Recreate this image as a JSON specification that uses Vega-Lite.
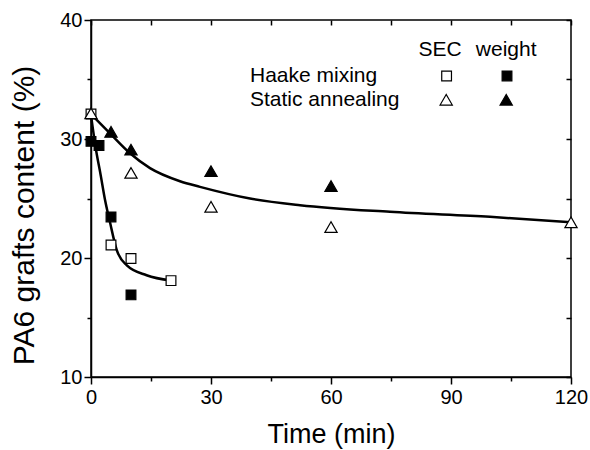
{
  "$schema": "https://vega.github.io/schema/vega-lite/v6.json",
  "autosize": "none",
  "width": 480,
  "height": 357,
  "padding": {"left": 91, "top": 20, "right": 19, "bottom": 73},
  "background": "white",
  "config": {
    "view": {"stroke": "black", "strokeWidth": 1.5},
    "font": "Liberation Sans",
    "axis": {
      "domainColor": "black", "domainWidth": 1.5, "tickColor": "black", "tickWidth": 1.5,
      "labelColor": "black", "titleColor": "black", "labelFont": "Liberation Sans", "titleFont": "Liberation Sans",
      "labelFontSize": 20, "titleFontSize": 28, "titleFontWeight": "normal", "grid": false, "labelFlush": false, "labelOverlap": false
    }
  },
  "datasets": {
    "points": [
      {"time": 0, "content": 32.1, "method": "Haake mixing", "measure": "SEC"},
      {"time": 5, "content": 21.1, "method": "Haake mixing", "measure": "SEC"},
      {"time": 10, "content": 19.95, "method": "Haake mixing", "measure": "SEC"},
      {"time": 20, "content": 18.1, "method": "Haake mixing", "measure": "SEC"},
      {"time": 0, "content": 29.8, "method": "Haake mixing", "measure": "weight"},
      {"time": 2, "content": 29.45, "method": "Haake mixing", "measure": "weight"},
      {"time": 5, "content": 23.45, "method": "Haake mixing", "measure": "weight"},
      {"time": 10, "content": 16.9, "method": "Haake mixing", "measure": "weight"},
      {"time": 0, "content": 32.15, "method": "Static annealing", "measure": "SEC"},
      {"time": 10, "content": 27.15, "method": "Static annealing", "measure": "SEC"},
      {"time": 30, "content": 24.3, "method": "Static annealing", "measure": "SEC"},
      {"time": 60, "content": 22.6, "method": "Static annealing", "measure": "SEC"},
      {"time": 120, "content": 23.0, "method": "Static annealing", "measure": "SEC"},
      {"time": 5, "content": 30.6, "method": "Static annealing", "measure": "weight"},
      {"time": 10, "content": 29.1, "method": "Static annealing", "measure": "weight"},
      {"time": 30, "content": 27.3, "method": "Static annealing", "measure": "weight"},
      {"time": 60, "content": 26.05, "method": "Static annealing", "measure": "weight"}
    ],
    "curves": [
      {"curve": "Haake", "time": 0, "content": 32.0},
      {"curve": "Haake", "time": 1.25, "content": 29.1},
      {"curve": "Haake", "time": 2.4, "content": 27.0},
      {"curve": "Haake", "time": 3.5, "content": 24.9},
      {"curve": "Haake", "time": 4.75, "content": 23.0},
      {"curve": "Haake", "time": 6.4, "content": 20.7},
      {"curve": "Haake", "time": 8.9, "content": 19.4},
      {"curve": "Haake", "time": 13.9, "content": 18.55},
      {"curve": "Haake", "time": 20, "content": 18.1},
      {"curve": "Static", "time": 0, "content": 32.1},
      {"curve": "Static", "time": 4.75, "content": 30.47},
      {"curve": "Static", "time": 9.75, "content": 28.8},
      {"curve": "Static", "time": 14.75, "content": 27.55},
      {"curve": "Static", "time": 22.25, "content": 26.45},
      {"curve": "Static", "time": 27.25, "content": 25.98},
      {"curve": "Static", "time": 39.75, "content": 25.0},
      {"curve": "Static", "time": 52.25, "content": 24.44},
      {"curve": "Static", "time": 74.75, "content": 23.88},
      {"curve": "Static", "time": 99.75, "content": 23.46},
      {"curve": "Static", "time": 120, "content": 23.0}
    ],
    "legendHeader": [
      {"label": "SEC", "time": 87.3, "content": 37.45},
      {"label": "weight", "time": 103.8, "content": 37.45}
    ],
    "legendRows": [
      {"label": "Haake mixing", "time": 39.75, "content": 35.3},
      {"label": "Static annealing", "time": 39.75, "content": 33.3}
    ],
    "legendSymbols": [
      {"method": "Haake mixing", "measure": "SEC", "lx": 88.9, "ly": 35.3},
      {"method": "Haake mixing", "measure": "weight", "lx": 104, "ly": 35.3},
      {"method": "Static annealing", "measure": "SEC", "lx": 88.8, "ly": 33.3},
      {"method": "Static annealing", "measure": "weight", "lx": 103.8, "ly": 33.3}
    ]
  },
  "layer": [
    {
      "data": {"name": "curves"},
      "mark": {"type": "line", "color": "black", "strokeWidth": 2.5, "interpolate": "monotone", "clip": false},
      "encoding": {
        "detail": {"field": "curve"},
        "x": {"field": "time", "type": "quantitative", "scale": {"domain": [0, 120], "nice": false, "zero": false},
          "axis": {"orient": "bottom", "title": "Time (min)", "titleFontSize": 27, "values": [0, 15, 30, 45, 60, 75, 90, 105, 120],
            "labelExpr": "datum.value % 30 === 0 ? datum.label : ''",
            "tickSize": {"condition": {"test": "datum.value % 30 === 0", "value": 7}, "value": 4},
            "labelPadding": 3, "titlePadding": 14}},
        "y": {"field": "content", "type": "quantitative", "scale": {"domain": [10, 40], "nice": false, "zero": false},
          "axis": {"orient": "left", "title": "PA6 grafts content (%)", "titleFontSize": 30, "titleY": 195, "values": [10, 15, 20, 25, 30, 35, 40],
            "labelExpr": "datum.value % 10 === 0 ? datum.label : ''",
            "tickSize": {"condition": {"test": "datum.value % 10 === 0", "value": 7}, "value": 4},
            "labelPadding": 2, "titlePadding": 20}}
      }
    },
    {
      "data": {"name": "points"},
      "mark": {"type": "point", "filled": false, "stroke": "black", "strokeWidth": 1.2, "opacity": 1, "clip": false},
      "encoding": {
        "x": {"field": "time", "type": "quantitative", "axis": null},
        "y": {"field": "content", "type": "quantitative", "axis": null},
        "shape": {"field": "method", "type": "nominal", "scale": {"domain": ["Haake mixing", "Static annealing"], "range": ["square", "triangle-up"]}, "legend": null},
        "fill": {"field": "measure", "type": "nominal", "scale": {"domain": ["SEC", "weight"], "range": ["white", "black"]}, "legend": null},
        "size": {"field": "method", "type": "nominal", "scale": {"domain": ["Haake mixing", "Static annealing"], "range": [95, 150]}, "legend": null}
      }
    },
    {
      "data": {"name": "legendSymbols"},
      "mark": {"type": "point", "filled": false, "stroke": "black", "strokeWidth": 1.2, "opacity": 1},
      "encoding": {
        "x": {"field": "lx", "type": "quantitative",
          "axis": {"orient": "top", "title": null, "labels": false, "domain": false, "offset": -5, "values": [0, 15, 30, 45, 60, 75, 90, 105, 120], "tickSize": 5}},
        "y": {"field": "ly", "type": "quantitative",
          "axis": {"orient": "right", "title": null, "labels": false, "domain": false, "offset": -5, "values": [10, 15, 20, 25, 30, 35, 40], "tickSize": 5}},
        "shape": {"field": "method", "type": "nominal", "legend": null},
        "fill": {"field": "measure", "type": "nominal", "legend": null},
        "size": {"field": "method", "type": "nominal", "legend": null}
      }
    },
    {
      "data": {"name": "legendHeader"},
      "mark": {"type": "text", "fontSize": 21, "font": "Liberation Sans", "color": "black", "baseline": "middle", "align": "center"},
      "encoding": {
        "x": {"field": "time", "type": "quantitative", "axis": null},
        "y": {"field": "content", "type": "quantitative", "axis": null},
        "text": {"field": "label"}
      }
    },
    {
      "data": {"name": "legendRows"},
      "mark": {"type": "text", "fontSize": 21, "font": "Liberation Sans", "color": "black", "baseline": "middle", "align": "left"},
      "encoding": {
        "x": {"field": "time", "type": "quantitative", "axis": null},
        "y": {"field": "content", "type": "quantitative", "axis": null},
        "text": {"field": "label"}
      }
    }
  ],
  "resolve": {"axis": {"x": "independent", "y": "independent"}}
}
